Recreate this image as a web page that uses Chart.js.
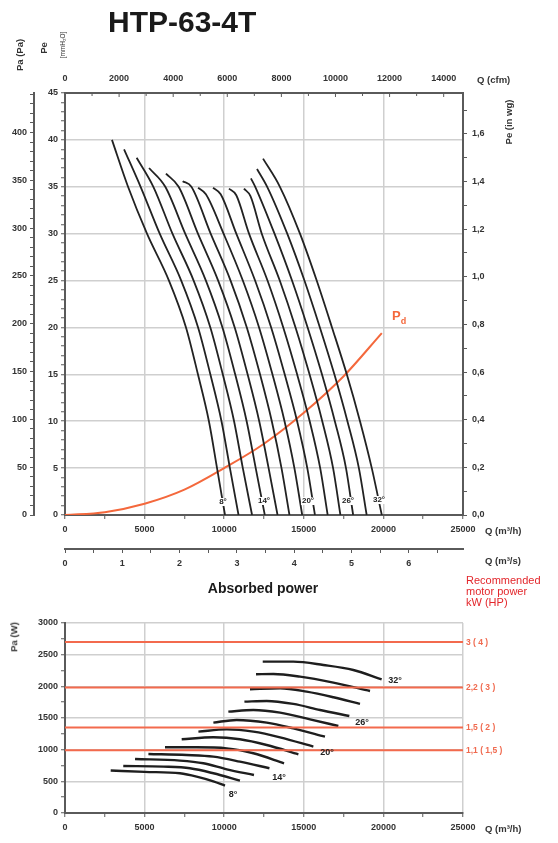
<!DOCTYPE html>
<html>
<head>
<meta charset="utf-8">
<script src="https://cdn.jsdelivr.net/npm/chart.js@4.4.0/dist/chart.umd.min.js"></script>
<style>
    body { margin: 0; background: #fff; width: 558px; height: 843px; overflow: hidden; position: relative; font-family: 'Liberation Sans', Arial, sans-serif; }
    canvas { position: absolute; left: 0; }
    #fan { top: 0; }
    #power { top: 600px; }
    .t { position: absolute; white-space: nowrap; font-weight: bold; color: #333; font-size: 9.5px; line-height: 1; z-index: 2; }
    .c { transform: translate(-50%, -50%); }
    .v { transform: translate(-50%, -50%) rotate(-90deg); }
    .l { transform: translateY(-50%); }
    .deg { font-size: 8px; background: #fff; padding: 0 1px; color: #222; }
    .pdeg { font-size: 9px; color: #222; }
    .motor { color: #f06a4f; font-size: 8.5px; }
</style>
</head>
<body>
<canvas id="fan" width="558" height="600"></canvas>
<canvas id="power" width="558" height="243"></canvas>

<div class="t" style="left:108px;top:7px;font-size:30px;color:#1a1a1a">HTP-63-4T</div>

<div class="t v" style="left:20px;top:55px">Pa (Pa)</div>
<div class="t v" style="left:44px;top:48px">Pe</div>
<div class="t v" style="left:63px;top:45px;font-size:6.5px;font-weight:normal">[mmH₂O]</div>
<div class="t l" style="left:477px;top:80px">Q (cfm)</div>
<div class="t v" style="left:509px;top:122px">Pe (in wg)</div>
<div class="t l" style="left:485px;top:531px">Q (m³/h)</div>
<div class="t l" style="left:485px;top:561px">Q (m³/s)</div>

<div class="t" style="left:392px;top:309px;font-size:13px;color:#f4683c">P<sub style="font-size:9px">d</sub></div>

<div class="t c deg" style="left:223px;top:502px">8°</div>
<div class="t c deg" style="left:264px;top:501px">14°</div>
<div class="t c deg" style="left:308px;top:501px">20°</div>
<div class="t c deg" style="left:348px;top:501px">26°</div>
<div class="t c deg" style="left:379px;top:500px">32°</div>

<div class="t c" style="left:263px;top:588px;font-size:14px;color:#1a1a1a">Absorbed power</div>
<div class="t" style="left:466px;top:575px;font-size:11px;font-weight:normal;line-height:11px;color:#e3262b">Recommended<br>motor power<br>kW (HP)</div>

<div class="t v" style="left:14px;top:637px">Pa (W)</div>
<div class="t l" style="left:485px;top:829px">Q (m³/h)</div>

<div class="t l motor" style="left:466px;top:642px">3 ( 4 )</div>
<div class="t l motor" style="left:466px;top:687px">2,2 ( 3 )</div>
<div class="t l motor" style="left:466px;top:727px">1,5 ( 2 )</div>
<div class="t l motor" style="left:466px;top:750px">1,1 ( 1,5 )</div>

<div class="t c pdeg" style="left:233px;top:794px">8°</div>
<div class="t c pdeg" style="left:279px;top:777px">14°</div>
<div class="t c pdeg" style="left:327px;top:752px">20°</div>
<div class="t c pdeg" style="left:362px;top:722px">26°</div>
<div class="t c pdeg" style="left:395px;top:680px">32°</div>

<script>
// Blade angles, one curve each
const angles = ['8°', '10°', '12°', '14°', '16°', '18°', '20°', '22°', '24°', '26°', '28°', '30°', '32°']

// Static pressure curves [Q m3/h, Pe mmH2O]
const pressureCurves = [
    [[2950, 40.0], [3960, 35], [5150, 30], [6530, 25], [7600, 20], [8350, 15], [9040, 10], [9550, 5], [10050, 0]],
    [[3710, 39.0], [4750, 35], [5950, 30], [7300, 25], [8360, 20], [9130, 15], [9830, 10], [10360, 5], [10900, 0]],
    [[4500, 38.1], [5550, 35], [6750, 30], [8080, 25], [9130, 20], [9910, 15], [10620, 10], [11170, 5], [11750, 0]],
    [[5280, 37.0], [6300, 35], [7550, 30], [8850, 25], [9890, 20], [10690, 15], [11410, 10], [11980, 5], [12550, 0]],
    [[6340, 36.4], [7140, 35], [8350, 30], [9620, 25], [10660, 20], [11470, 15], [12200, 10], [12790, 5], [13350, 0]],
    [[7390, 35.6], [7940, 35], [9150, 30], [10400, 25], [11420, 20], [12250, 15], [12990, 10], [13600, 5], [14100, 0]],
    [[8360, 34.9], [8850, 34.2], [9960, 30], [11170, 25], [12190, 20], [13030, 15], [13790, 10], [14410, 5], [14900, 0]],
    [[9300, 34.9], [9780, 34.2], [10760, 30], [11940, 25], [12950, 20], [13800, 15], [14580, 10], [15220, 5], [15700, 0]],
    [[10300, 34.8], [10760, 34.1], [11560, 30], [12720, 25], [13710, 20], [14580, 15], [15370, 10], [16030, 5], [16500, 0]],
    [[11240, 34.8], [11650, 34.0], [12360, 30], [13490, 25], [14480, 20], [15360, 15], [16160, 10], [16840, 5], [17300, 0]],
    [[11680, 35.9], [11950, 35], [13160, 30], [14260, 25], [15240, 20], [16140, 15], [16950, 10], [17650, 5], [18100, 0]],
    [[12060, 36.9], [12700, 35], [13960, 30], [15040, 25], [16010, 20], [16920, 15], [17740, 10], [18460, 5], [18950, 0]],
    [[12440, 38.0], [13500, 35], [14760, 30], [15810, 25], [16770, 20], [17700, 15], [18530, 10], [19270, 5], [19900, 0]]
]

// Dynamic pressure Pd [Q m3/h, mmH2O]
const pdCurve = [[0, 0], [2500, 0.3], [5000, 1.2], [7500, 2.7], [10000, 5.0], [12500, 7.6], [15000, 10.9], [17500, 14.8], [19900, 19.4]]

// Absorbed power curves [Q m3/h, W]
const powerCurves = [
    [[2870, 670], [5000, 650], [7220, 627], [8270, 575], [9320, 500], [10050, 432]],
    [[3660, 743], [6180, 732], [7850, 706], [9320, 627], [10990, 511]],
    [[4400, 853], [7220, 827], [8690, 785], [10160, 690], [11870, 600]],
    [[5240, 932], [7640, 916], [9320, 890], [10990, 811], [12840, 706]],
    [[6280, 1037], [8270, 1037], [10160, 1021], [11830, 943], [13760, 785]],
    [[7330, 1164], [9320, 1195], [10990, 1164], [12670, 1074], [14660, 927]],
    [[8380, 1285], [10160, 1321], [11830, 1285], [13510, 1195], [15600, 1048]],
    [[9320, 1427], [10780, 1469], [12670, 1427], [14340, 1337], [16330, 1206]],
    [[10260, 1600], [11830, 1627], [13510, 1585], [15390, 1479], [17170, 1374]],
    [[11270, 1758], [12670, 1769], [14340, 1722], [16020, 1627], [17860, 1532]],
    [[11620, 1953], [13510, 1969], [15180, 1916], [16860, 1827], [18530, 1722]],
    [[12000, 2190], [13090, 2195], [14760, 2153], [16860, 2058], [19160, 1927]],
    [[12420, 2390], [14340, 2390], [16230, 2337], [18110, 2258], [19890, 2111]]
]

// Recommended motor power lines (W)
const motorPower = [2700, 1980, 1350, 990]
const motorLabels = ['3 ( 4 )', '2,2 ( 3 )', '1,5 ( 2 )', '1,1 ( 1,5 )']

// Top axis ticks (cfm), labelled every 2000
const cfmTicks = [0, 1000, 2000, 3000, 4000, 5000, 6000, 7000, 8000, 9000, 10000, 11000, 12000, 13000, 14000]

const qMax = 25000
const axisColor = '#5a5a5a'
const gridColor = '#cfcfcf'
const curveColor = '#222'
const orange = '#f4683c'

Chart.defaults.font = { family: "'Liberation Sans', Arial, sans-serif", size: 9, weight: 'bold' }
Chart.defaults.color = '#333'

// true when v is a multiple of step
function isStep (v, step) {
    return Math.abs(v / step - Math.round(v / step)) < 1e-6
}

// grid lines only on the main steps, never on the frame
function gridOn (step, max) {
    return ctx => {
        const v = ctx.tick ? ctx.tick.value : 0
        return (isStep(v, step) && v > 0 && v < max) ? gridColor : 'transparent'
    }
}

// small ticks pointing into the plot for the cfm axis
const innerTicks = {
    id: 'innerTicks',
    afterDraw (chart) {
        const s = chart.scales.cfm
        const ctx = chart.ctx
        ctx.save()
        ctx.strokeStyle = axisColor
        ctx.lineWidth = 1
        s.ticks.forEach(t => {
            const x = s.getPixelForValue(t.value)
            const len = isStep(t.value, 2000) ? 4 : 3
            ctx.beginPath()
            ctx.moveTo(x, s.bottom)
            ctx.lineTo(x, s.bottom + len)
            ctx.stroke()
        })
        ctx.restore()
    }
}

const fanSets = pressureCurves.map((pts, i) => ({
    label: angles[i],
    data: pts,
    showLine: true,
    borderColor: curveColor,
    borderWidth: 1.8,
    pointRadius: 0,
    cubicInterpolationMode: 'monotone'
}))
fanSets.push({
    label: 'Pd',
    data: pdCurve,
    showLine: true,
    borderColor: orange,
    borderWidth: 2,
    pointRadius: 0,
    cubicInterpolationMode: 'monotone'
})

new Chart(document.getElementById('fan'), {
    type: 'scatter',
    data: { datasets: fanSets },
    options: {
        responsive: false,
        animation: false,
        devicePixelRatio: 1,
        layout: { padding: { left: 0, right: 45, top: 69, bottom: 21 } },
        plugins: { legend: { display: false }, tooltip: { enabled: false } },
        scales: {
            x: {
                type: 'linear', axis: 'x', position: 'bottom', weight: 0, min: 0, max: qMax,
                border: { color: axisColor, width: 2 },
                grid: { color: gridOn(5000, qMax), lineWidth: 1.5, tickColor: axisColor, tickLength: 4, tickWidth: 1 },
                ticks: { stepSize: 2500, autoSkip: false, maxRotation: 0, padding: 5, callback: v => isStep(v, 5000) ? v : '' },
                afterFit: s => { s.height = 34 }
            },
            ms: {
                type: 'linear', axis: 'x', position: 'bottom', weight: 1, min: 0, max: qMax / 3600,
                border: { color: axisColor, width: 2 },
                grid: { drawOnChartArea: false, tickColor: axisColor, tickLength: 4, tickWidth: 1 },
                ticks: { stepSize: 0.5, includeBounds: false, autoSkip: false, maxRotation: 0, padding: 5, callback: v => isStep(v, 1) ? Math.round(v) : '' },
                afterFit: s => { s.height = 30 }
            },
            cfm: {
                type: 'linear', axis: 'x', position: 'top', min: 0, max: qMax * 0.588578,
                border: { color: axisColor, width: 2 },
                grid: { drawOnChartArea: false, drawTicks: false },
                ticks: { autoSkip: false, maxRotation: 0, padding: 9, callback: v => isStep(v, 2000) ? v : '' },
                afterBuildTicks: s => { s.ticks = cfmTicks.map(v => ({ value: v })) },
                afterFit: s => { s.height = 24 }
            },
            y: {
                type: 'linear', axis: 'y', position: 'left', weight: 0, min: 0, max: 45,
                border: { color: axisColor, width: 2 },
                grid: { color: gridOn(5, 45), lineWidth: 1.5, tickColor: axisColor, tickLength: 4, tickWidth: 1 },
                ticks: { stepSize: 1, autoSkip: false, padding: 3, callback: v => isStep(v, 5) ? v : '' },
                afterFit: s => { s.width = 31 }
            },
            pa: {
                type: 'linear', axis: 'y', position: 'left', weight: 1, min: 0, max: 45 * 9.80665,
                border: { color: axisColor, width: 2 },
                grid: { drawOnChartArea: false, tickColor: axisColor, tickLength: 4, tickWidth: 1 },
                ticks: { stepSize: 10, includeBounds: false, autoSkip: false, padding: 3, callback: v => isStep(v, 50) ? v : '' },
                afterFit: s => { s.width = 34 }
            },
            inwg: {
                type: 'linear', axis: 'y', position: 'right', min: 0, max: 45 / 25.4,
                border: { color: axisColor, width: 2 },
                grid: { drawOnChartArea: false, tickColor: axisColor, tickLength: 4, tickWidth: 1 },
                ticks: {
                    stepSize: 0.1, includeBounds: false, autoSkip: false, padding: 5,
                    callback: v => {
                        const k = Math.round(v * 10)
                        return k % 2 === 0 ? (k / 10).toFixed(1).replace('.', ',') : ''
                    }
                },
                afterFit: s => { s.width = 50 }
            }
        }
    },
    plugins: [innerTicks]
})

const powerSets = motorPower.map((w, i) => ({
    label: motorLabels[i],
    data: [[0, w], [qMax, w]],
    showLine: true,
    borderColor: '#f36a4d',
    borderWidth: 2,
    pointRadius: 0
}))
powerCurves.forEach((pts, i) => {
    powerSets.push({
        label: angles[i],
        data: pts,
        showLine: true,
        borderColor: '#1e1e1e',
        borderWidth: 2.4,
        pointRadius: 0,
        cubicInterpolationMode: 'monotone'
    })
})

new Chart(document.getElementById('power'), {
    type: 'scatter',
    data: { datasets: powerSets },
    options: {
        responsive: false,
        animation: false,
        devicePixelRatio: 1,
        layout: { padding: { left: 0, right: 95, top: 23, bottom: 0 } },
        plugins: { legend: { display: false }, tooltip: { enabled: false } },
        scales: {
            x: {
                type: 'linear', position: 'bottom', min: 0, max: qMax,
                border: { color: axisColor, width: 2 },
                grid: { color: gridOn(5000, qMax + 1), lineWidth: 1.5, tickColor: axisColor, tickLength: 4, tickWidth: 1 },
                ticks: { stepSize: 2500, autoSkip: false, maxRotation: 0, padding: 5, callback: v => isStep(v, 5000) ? v : '' },
                afterFit: s => { s.height = 30 }
            },
            y: {
                type: 'linear', position: 'left', min: 0, max: 3000,
                border: { color: axisColor, width: 2 },
                grid: { color: gridOn(500, 3001), lineWidth: 1.5, tickColor: axisColor, tickLength: 4, tickWidth: 1 },
                ticks: { stepSize: 250, autoSkip: false, padding: 3, callback: v => isStep(v, 500) ? v : '' },
                afterFit: s => { s.width = 65 }
            }
        }
    }
})
</script>
</body>
</html>
